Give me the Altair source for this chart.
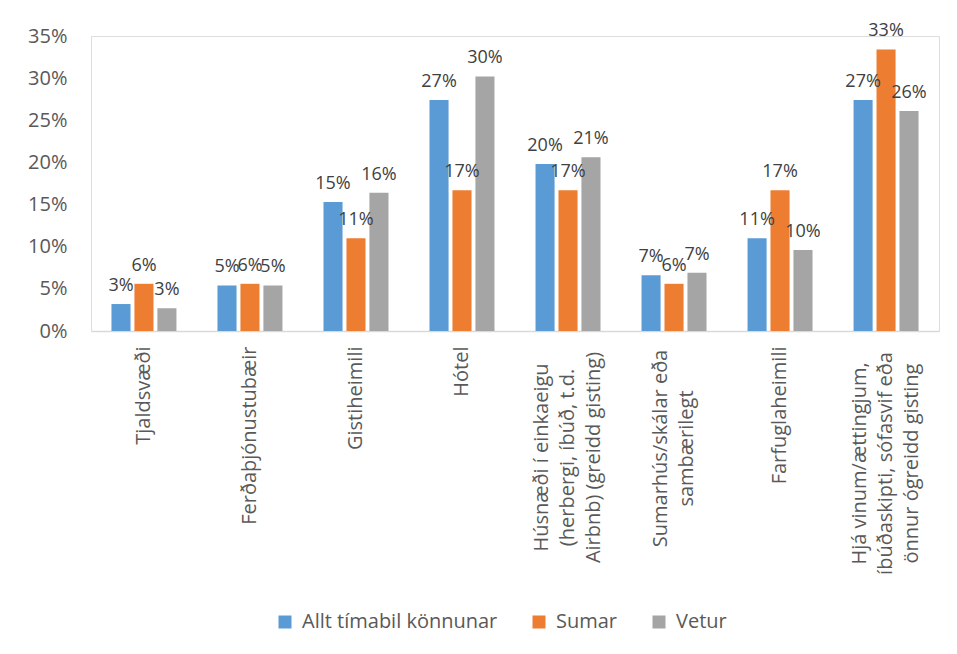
import altair as alt
import pandas as pd

categories = [
    "Tjaldsvæði",
    "Ferðaþjónustubæir",
    "Gistiheimili",
    "Hótel",
    "Húsnæði í einkaeigu|(herbergi, íbúð, t.d.|Airbnb) (greidd gisting)",
    "Sumarhús/skálar eða|sambærilegt",
    "Farfuglaheimili",
    "Hjá vinum/ættingjum,|íbúðaskipti, sófasvif eða|önnur ógreidd gisting",
]
series = ["Allt tímabil könnunar", "Sumar", "Vetur"]
allt = [0.032, 0.054, 0.153, 0.274, 0.198, 0.066, 0.110, 0.274]
sumar = [0.056, 0.056, 0.110, 0.167, 0.167, 0.056, 0.167, 0.334]
vetur = [0.027, 0.054, 0.164, 0.302, 0.206, 0.069, 0.096, 0.261]
colors = ["#5B9BD5", "#ED7D31", "#A5A5A5"]
y_ticks = [0, 0.05, 0.10, 0.15, 0.20, 0.25, 0.30, 0.35]

rows = []
for s, vals in zip(series, [allt, sumar, vetur]):
    for c, v in zip(categories, vals):
        rows.append({"cat": c, "series": s, "value": v})
df = pd.DataFrame(rows)

FONT = "Open Sans"
TXT = "#595959"
FS = 20
LH = 26

T3a = "indexof(datum.value, 'Hjá') >= 0"
T3b = "indexof(datum.value, 'Húsnæði') >= 0"
T2 = "indexof(datum.value, 'Sumarhús') >= 0"
MULTI = "indexof(datum.value, '|') >= 0"

base = alt.Chart(df).encode(
    x=alt.X(
        "cat:N",
        sort=categories,
        title=None,
        scale=alt.Scale(paddingInner=0.387, paddingOuter=0.193),
        axis=alt.Axis(
            labelAngle=-90,
            labelExpr="split(datum.label, '|')",
            labelFont=FONT,
            labelFontSize=FS,
            labelColor=TXT,
            labelLineHeight=LH,
            labelAlign={
                "condition": {"test": MULTI, "value": "center"},
                "value": "right",
            },
            labelPadding={
                "condition": [
                    {"test": T3a, "value": 132},
                    {"test": T3b, "value": 126},
                    {"test": T2, "value": 117},
                ],
                "value": 15,
            },
            labelOffset={
                "condition": [
                    {"test": T3a, "value": -LH},
                    {"test": T3b, "value": -LH},
                    {"test": T2, "value": -LH / 2},
                ],
                "value": 0,
            },
            labelLimit=400,
            labelOverlap=False,
            ticks=False,
            domainColor="#D9D9D9",
            domainWidth=1.5,
            grid=False,
        ),
    ),
    xOffset=alt.XOffset(
        "series:N", sort=series, scale=alt.Scale(paddingInner=0.17, paddingOuter=0)
    ),
    y=alt.Y(
        "value:Q",
        title=None,
        scale=alt.Scale(domain=[0, 0.35], nice=False),
        axis=alt.Axis(
            values=y_ticks,
            format=".0%",
            labelFont=FONT,
            labelFontSize=FS,
            labelColor=TXT,
            labelPadding=24,
            ticks=False,
            domain=False,
            grid=False,
        ),
    ),
)

bars = base.mark_bar().encode(
    color=alt.Color(
        "series:N",
        sort=series,
        scale=alt.Scale(domain=series, range=colors),
        legend=alt.Legend(
            title=None,
            orient="none",
            legendX=184,
            legendY=576,
            direction="horizontal",
            symbolType="square",
            symbolSize=169,
            symbolStrokeWidth=0,
            labelFont=FONT,
            labelFontSize=FS,
            labelColor=TXT,
            labelOffset=7,
            columnPadding=31,
            labelLimit=400,
        ),
    )
)

labels = base.mark_text(
    font=FONT, fontSize=18, color="#404040", baseline="bottom", dy=-9
).encode(text=alt.Text("value:Q", format=".0%"))

chart = (
    alt.layer(bars, labels)
    .properties(
        width=848,
        height=295,
        autosize=alt.AutoSizeParams(type="none"),
        padding={"left": 83, "top": 28, "right": 10, "bottom": 316},
    )
    .configure_view(stroke=None)
    .configure(background="white")
)

chart.save("out.html", embed_options={"renderer": "svg", "actions": False})
